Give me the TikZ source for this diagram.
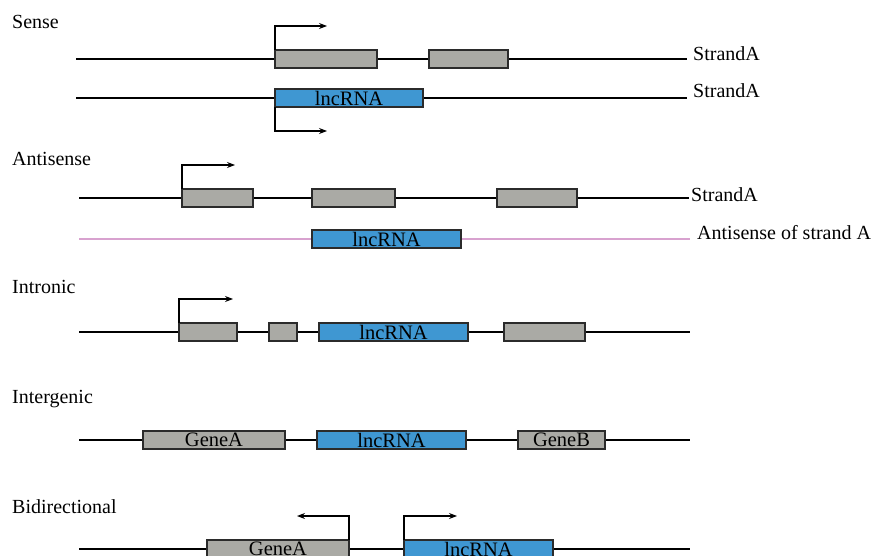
\documentclass[tikz,border=0pt]{standalone}
\usepackage{fontspec}
\setmainfont{Liberation Serif}
\usetikzlibrary{arrows.meta}
\definecolor{exgray}{HTML}{AAAAA5}
\definecolor{lncblue}{HTML}{3F97D2}
\definecolor{antipink}{HTML}{D8A2CF}
\definecolor{edgecol}{HTML}{2B2B2B}
\begin{document}
\begin{tikzpicture}[x=1pt,y=-1pt,
  strand/.style={line width=1.2pt, black},
  pinkstrand/.style={line width=1.4pt, antipink},
  exon/.style={draw=edgecol, line width=1.3pt, fill=exgray, inner sep=0pt, outer sep=0pt,
    minimum height=18pt, anchor=west, font=\fontsize{20.5}{20}\selectfont},
  lnc/.style={exon, fill=lncblue},
  tss/.style={line width=1.1pt, -{Stealth[length=8pt,width=6pt]}},
  lbl/.style={font=\fontsize{20}{20}\selectfont, inner sep=0pt, anchor=base west}]
\useasboundingbox (0,0) rectangle (883,556);
\clip (0,0) rectangle (883,556);

% ---------- Sense ----------
\node[lbl] (tsense) at (12,29) {Sense};
\coordinate (sa1) at (76,59); \coordinate (sb1) at (687,59);
\draw[strand] (sa1) -- (sb1);
\node[exon, minimum width=102pt] (se1) at (275,59) {};
\node[exon, minimum width=79pt] (se2) at (429,59) {};
\node[lbl] (sA1) at (693,61) {StrandA};
\draw[tss] (se1.north west) |- ++(52,-24);
\coordinate (sa2) at (76,98); \coordinate (sb2) at (687,98);
\draw[strand] (sa2) -- (sb2);
\node[lnc, minimum width=148pt] (sl) at (275,98) {lncRNA};
\node[lbl] (sA2) at (693,98) {StrandA};
\draw[tss] (sl.south west) |- ++(52,24);

% ---------- Antisense ----------
\node[lbl] (tanti) at (12,166) {Antisense};
\coordinate (aa1) at (79,198); \coordinate (ab1) at (689,198);
\draw[strand] (aa1) -- (ab1);
\node[exon, minimum width=71pt] (ae1) at (182,198) {};
\node[exon, minimum width=83pt] (ae2) at (312,198) {};
\node[exon, minimum width=80pt] (ae3) at (497,198) {};
\node[lbl] (aA1) at (691,201) {StrandA};
\draw[tss] (ae1.north west) |- ++(53,-24);
\coordinate (aa2) at (79,239); \coordinate (ab2) at (690,239);
\draw[pinkstrand] (aa2) -- (ab2);
\node[lnc, minimum width=149pt] (al) at (312,239) {lncRNA};
\node[lbl] (aA2) at (697,240) {Antisense of strand A};

% ---------- Intronic ----------
\node[lbl] (tintr) at (12,293) {Intronic};
\coordinate (ia) at (79,332); \coordinate (ib) at (690,332);
\draw[strand] (ia) -- (ib);
\node[exon, minimum width=58pt] (ie1) at (179,332) {};
\node[exon, minimum width=28pt] (ie2) at (269,332) {};
\node[lnc, minimum width=149pt] (il) at (319,332) {lncRNA};
\node[exon, minimum width=81pt] (ie3) at (504,332) {};
\draw[tss] (ie1.north west) |- ++(54,-24);

% ---------- Intergenic ----------
\node[lbl] (tinter) at (12,403) {Intergenic};
\coordinate (ga) at (79,440); \coordinate (gb) at (690,440);
\draw[strand] (ga) -- (gb);
\node[exon, minimum width=142pt] (gA) at (143,440) {GeneA};
\node[lnc, minimum width=149pt] (gl) at (317,440) {lncRNA};
\node[exon, minimum width=87pt] (gB) at (518,440) {GeneB};

% ---------- Bidirectional ----------
\node[lbl] (tbidi) at (12,513) {Bidirectional};
\coordinate (ba) at (79,549); \coordinate (bb) at (690,549);
\draw[strand] (ba) -- (bb);
\node[exon, minimum width=142pt] (bA) at (207,549) {GeneA};
\node[lnc, minimum width=149pt] (bl) at (404,549) {lncRNA};
\draw[tss] (bA.north east) |- ++(-52,-24);
\draw[tss] (bl.north west) |- ++(53,-24);
\end{tikzpicture}
\end{document}
